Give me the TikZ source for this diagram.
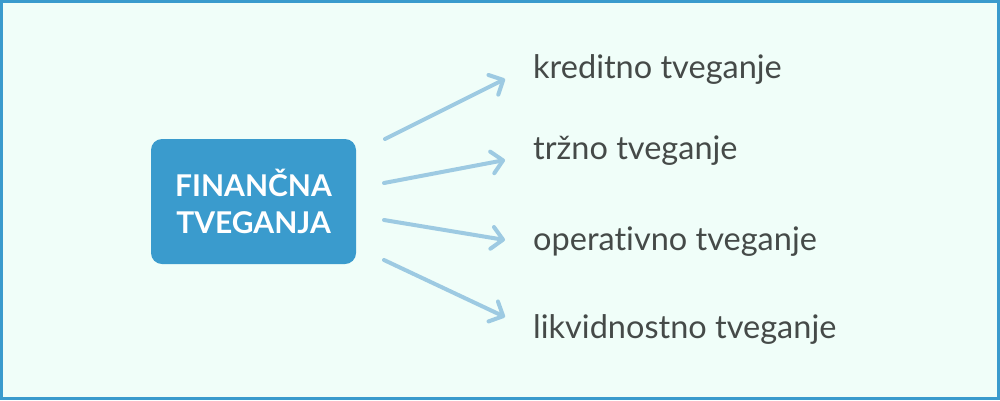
\documentclass[tikz,border=0pt]{standalone}
\usepackage{fontspec}
\setmainfont{Lato}[Ligatures={NoCommon,NoContextual}]
\usetikzlibrary{arrows.meta}
\definecolor{bgmint}{HTML}{F0FEF9}
\definecolor{frameblue}{HTML}{3A9BCD}
\definecolor{boxblue}{HTML}{3A9BCD}
\definecolor{arrowblue}{HTML}{9DCAE2}
\definecolor{labelgray}{HTML}{454A48}
\tikzset{
  centerbox/.style={fill=boxblue, rounded corners=11pt, minimum width=205pt, minimum height=125pt, inner sep=0pt, text=white, font=\fontsize{30}{37}\selectfont\bfseries, align=center},
  leaf/.style={anchor=base west, inner sep=0pt, text=labelgray, font=\fontsize{32.5}{38}\selectfont},
  link/.style={draw=arrowblue, line width=4pt, line cap=round, -{Straight Barb[length=11pt,width=22pt,line width=4pt,round]}}
}
\begin{document}
\begin{tikzpicture}[x=1pt,y=-1pt]
\fill[bgmint] (0,0) rectangle (1000,400);
\draw[frameblue, line width=3pt] (1.5,1.5) rectangle (998.5,398.5);
\useasboundingbox (0,0) rectangle (1000,400);
\node[centerbox] (c) at (253.5,201.5) {FINANČNA\\TVEGANJA};
\node[leaf] (l1) at (533,78) {kreditno tveganje};
\node[leaf] (l2) at (533,159) {tržno tveganje};
\node[leaf] (l3) at (533,250) {operativno tveganje};
\node[leaf] (l4) at (533,338) {likvidnostno tveganje};
\coordinate (s1) at (385,139); \coordinate (e1) at (505,79);
\coordinate (s2) at (384,183); \coordinate (e2) at (505,160);
\coordinate (s3) at (384,220); \coordinate (e3) at (505,240);
\coordinate (s4) at (384,260); \coordinate (e4) at (505,317);
\draw[link] (s1) -- (e1);
\draw[link] (s2) -- (e2);
\draw[link] (s3) -- (e3);
\draw[link] (s4) -- (e4);
\end{tikzpicture}
\end{document}
